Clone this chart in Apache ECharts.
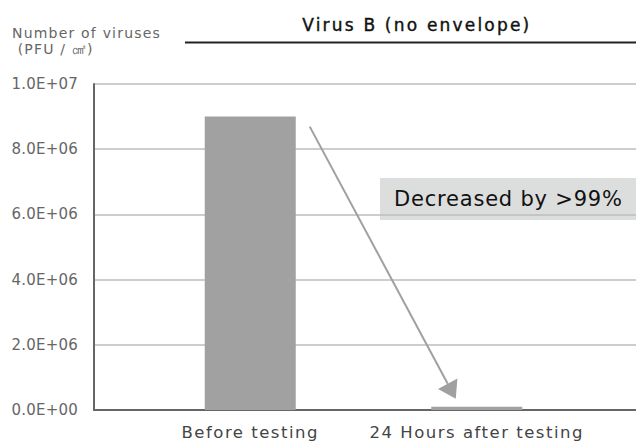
<!DOCTYPE html>
<html>
<head>
<meta charset="utf-8">
<script src="https://cdn.jsdelivr.net/npm/echarts@6/dist/echarts.min.js"></script>
<style>
  html, body { margin: 0; padding: 0; background: #fff; }
  #chart { width: 636px; height: 442px; }
</style>
</head>
<body>
<div id="chart"></div>
<script>
// Plaque counts per square centimetre, before and 24 h after testing
const categories = ['Before testing', '24 Hours after testing'];
const virusCounts = [9.0e6, 1.0e5];
const yTicks = [0, 2e6, 4e6, 6e6, 8e6, 1e7];
const titleText = 'Virus B (no envelope)';
const yNameLines = ['Number of viruses', ' (PFU / ㎠)'];
const noteText = 'Decreased by >99%';

const FONT = 'DejaVu Sans';
const BAR_COLOR = '#a0a1a0';
const ARROW_COLOR = '#a0a0a0';
const BAR_WIDTH = 91;

function sciLabel(v) {
  if (v === 0) return '0.0E+00';
  const e = Math.floor(Math.log10(v) + 1e-9);
  const m = (v / Math.pow(10, e)).toFixed(1);
  return m + 'E+' + String(e).padStart(2, '0');
}

const chart = echarts.init(document.getElementById('chart'), null, { renderer: 'svg' });

const yMin = yTicks[0];
const yMax = yTicks[yTicks.length - 1];
const yStep = yTicks[1] - yTicks[0];

chart.setOption({
  animation: false,
  backgroundColor: '#ffffff',
  grid: [
    { left: 94, right: 0, top: 84, bottom: 32 },   // frame, gridlines, y axis
    { left: 137, right: 46, top: 84, bottom: 32 }  // category bands for the bars
  ],
  xAxis: [
    {
      gridIndex: 0, type: 'value', min: 0, max: 1,
      axisLine: { show: true, onZero: false, lineStyle: { color: '#666', width: 2 } },
      axisTick: { show: false }, axisLabel: { show: false }, splitLine: { show: false }
    },
    {
      gridIndex: 1, type: 'category', data: categories,
      axisLine: { show: false }, axisTick: { show: false },
      axisLabel: { interval: 0, color: '#444', fontFamily: FONT, fontSize: 16.5, margin: 14 }
    }
  ],
  yAxis: [
    {
      gridIndex: 0, type: 'value', min: yMin, max: yMax, interval: yStep,
      axisLine: { show: true, lineStyle: { color: '#666', width: 2 } },
      axisTick: { show: false },
      axisLabel: { color: '#666', fontFamily: FONT, fontSize: 15, margin: 16, formatter: sciLabel },
      splitLine: { show: true, lineStyle: { color: '#bdbdbd', width: 1.5 } }
    },
    {
      gridIndex: 1, type: 'value', min: yMin, max: yMax, interval: yStep, show: false
    }
  ],
  series: [
    {
      type: 'bar', xAxisIndex: 1, yAxisIndex: 1,
      data: virusCounts, barWidth: BAR_WIDTH,
      itemStyle: { color: BAR_COLOR }
    }
  ],
  graphic: [
    {
      id: 'yname', type: 'text', left: 12, top: 25,
      style: { text: yNameLines.join('\n'), fill: '#666', fontFamily: FONT, fontSize: 14, lineHeight: 16 }
    },
    {
      id: 'title', type: 'text', left: 302, top: 16,
      style: { text: titleText, fill: '#111', fontFamily: FONT, fontSize: 17, stroke: '#111', lineWidth: 0.4 }
    },
    {
      id: 'titleRule', type: 'line', shape: { x1: 185, y1: 42.5, x2: 636, y2: 42.5 },
      style: { stroke: '#222', lineWidth: 2 }
    },
    {
      id: 'noteBox', type: 'group', right: 0, top: 178, z: 10,
      children: [
        { type: 'rect', shape: { x: 0, y: 0, width: 256, height: 42 }, style: { fill: '#dcdddd' } },
        { type: 'text', x: 14, y: 21, style: { text: noteText, fill: '#111', fontFamily: FONT, fontSize: 21, verticalAlign: 'middle' } }
      ]
    }
  ]
});

// Arrow from the first bar down to the second, anchored on the bar values
const pA = chart.convertToPixel({ xAxisIndex: 1, yAxisIndex: 1 }, [0, virusCounts[0]]);
const pB = chart.convertToPixel({ xAxisIndex: 1, yAxisIndex: 1 }, [1, virusCounts[1]]);
const x1 = pA[0] + BAR_WIDTH / 2 + 14, y1 = pA[1] + 10;
const tx = pB[0] - 21, ty = pB[1] - 8;
const ang = Math.atan2(ty - y1, tx - x1);
const headLen = 17, headHalf = 11;
const bx = tx - headLen * Math.cos(ang), by = ty - headLen * Math.sin(ang);
const nx = -Math.sin(ang), ny = Math.cos(ang);

chart.setOption({
  graphic: [
    {
      id: 'arrowShaft', type: 'line', z: 5,
      shape: { x1: x1, y1: y1, x2: bx, y2: by },
      style: { stroke: ARROW_COLOR, lineWidth: 2 }
    },
    {
      id: 'arrowHead', type: 'polygon', z: 5,
      shape: { points: [[tx, ty], [bx + nx * headHalf, by + ny * headHalf], [bx - nx * headHalf, by - ny * headHalf]] },
      style: { fill: ARROW_COLOR }
    }
  ]
});

// Wider tracking for the text, as in the printed figure
const tracking = [
  [categories, '1.5px'],
  [[titleText], '2.2px'],
  [yNameLines.map(s => s.trim()), '1.2px'],
  [[noteText], '0.8px'],
  [yTicks.map(sciLabel), '0.2px']
];
document.querySelectorAll('#chart svg text').forEach(t => {
  const s = t.textContent.trim();
  for (const [list, sp] of tracking) {
    if (list.includes(s)) { t.style.letterSpacing = sp; break; }
  }
});
</script>
</body>
</html>
